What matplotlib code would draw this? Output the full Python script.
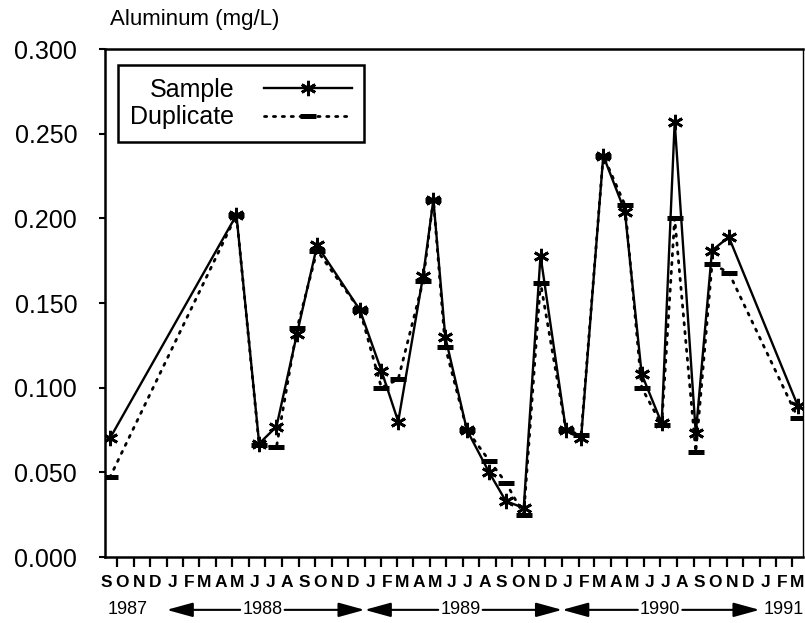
import datetime as dt
import matplotlib
matplotlib.use("Agg")
import matplotlib.pyplot as plt
import matplotlib.dates as mdates
from matplotlib.ticker import FuncFormatter, MultipleLocator, NullFormatter

plt.rcParams['font.family'] = ['Liberation Sans', 'DejaVu Sans']

# sampling dates and aluminum results (mg/L)
dates = ["1987-09-18", "1988-05-09", "1988-06-20", "1988-07-22", "1988-08-29",
         "1988-10-05", "1988-12-23", "1989-02-01", "1989-03-04", "1989-04-19",
         "1989-05-08", "1989-05-30", "1989-07-09", "1989-08-19", "1989-09-19",
         "1989-10-22", "1989-11-22", "1990-01-08", "1990-02-05", "1990-03-18",
         "1990-04-27", "1990-05-28", "1990-07-04", "1990-07-28", "1990-09-05",
         "1990-10-05", "1990-11-05", "1991-03-13"]
sample = [0.070, 0.202, 0.067, 0.077, 0.132, 0.184, 0.146, 0.110, 0.080, 0.166,
          0.211, 0.130, 0.075, 0.050, 0.033, 0.029, 0.178, 0.075, 0.070, 0.237,
          0.204, 0.108, 0.079, 0.257, 0.073, 0.181, 0.189, 0.089]
duplicate = [0.047, 0.202, 0.066, 0.065, 0.135, 0.181, 0.146, 0.100, 0.105, 0.163,
             0.211, 0.124, 0.075, 0.057, 0.044, 0.025, 0.162, 0.075, 0.072, 0.237,
             0.208, 0.100, 0.078, 0.200, 0.062, 0.173, 0.168, 0.082]

years = ["1987", "1988", "1989", "1990", "1991"]

x = [dt.datetime.strptime(d, "%Y-%m-%d") for d in dates]

fig = plt.figure(figsize=(8.05, 6.23), dpi=100)
ax = fig.add_axes([0.1304, 0.1059, 0.867, 0.8154])

# Sample: solid line with asterisks, Duplicate: dotted line with bars
ax.plot(x, sample, color="black", lw=1.7, marker=(6, 2, 0), markersize=11,
        markeredgewidth=2.0, label="Sample", zorder=3)
ax.plot(x, duplicate, color="black", lw=2.0, linestyle=(0, (0.8, 2.4)),
        dash_capstyle="round", marker="_", markersize=11, markeredgewidth=3.6,
        label="Duplicate", zorder=2)

ax.set_ylim(0, 0.3)
ax.set_xlim(dt.datetime(1987, 9, 9), dt.datetime(1991, 3, 22))
ax.yaxis.set_major_locator(MultipleLocator(0.05))
ax.yaxis.set_major_formatter(FuncFormatter(lambda v, p: f"{v:.3f}"))
ax.tick_params(axis="y", direction="out", length=4, width=1.5, pad=16,
               labelsize=18)

# month ticks on the 1st, single letter labels inside each month
ax.xaxis.set_major_locator(mdates.MonthLocator())
ax.xaxis.set_major_formatter(NullFormatter())
ax.xaxis.set_minor_locator(mdates.MonthLocator(bymonthday=11))
ax.xaxis.set_minor_formatter(
    FuncFormatter(lambda v, p: mdates.num2date(v).strftime("%b")[0]))
ax.tick_params(axis="x", which="major", direction="out", length=7, width=1.6)
ax.tick_params(axis="x", which="minor", length=0, pad=13, labelsize=12.5)
for t in ax.xaxis.get_minorticklabels():
    t.set_fontweight("bold")

for s in ax.spines.values():
    s.set_linewidth(1.8)
ax.spines["right"].set_linewidth(1.0)

# year row with arrows to the year boundaries
yr_y = -0.104
yr_pos = [dt.datetime(1987, 10, 20), dt.datetime(1988, 6, 26),
          dt.datetime(1989, 6, 27), dt.datetime(1990, 7, 1),
          dt.datetime(1991, 2, 14)]
for i, (lab, pos) in enumerate(zip(years, yr_pos)):
    ax.annotate(lab, xy=(pos, yr_y), xycoords=("data", "axes fraction"),
                ha="center", va="center", fontsize=13, annotation_clip=False)
    if 0 < i < len(years) - 1:
        for tip in (dt.datetime(int(lab), 1, 1), dt.datetime(int(lab) + 1, 1, 1)):
            ax.annotate("", xy=(tip, yr_y), xytext=(pos, yr_y),
                        xycoords=("data", "axes fraction"),
                        textcoords=("data", "axes fraction"),
                        annotation_clip=False,
                        arrowprops=dict(arrowstyle="-|>,head_length=0.8,head_width=0.22",
                                        mutation_scale=20, color="black", lw=1.5,
                                        shrinkA=16, shrinkB=0))

ax.text(0.007, 1.058, "Aluminum (mg/L)", transform=ax.transAxes,
        ha="left", va="center", fontsize=16)

leg = ax.legend(loc="upper left", bbox_to_anchor=(0.0186, 0.9685),
                borderaxespad=0, markerfirst=False, numpoints=1, fontsize=18,
                handlelength=3.5, handletextpad=1.2, labelspacing=0.15,
                borderpad=0.5, fancybox=False, framealpha=1)
leg.get_frame().set_edgecolor("black")
leg.get_frame().set_linewidth(1.8)

fig.savefig("out.png", dpi=100)
